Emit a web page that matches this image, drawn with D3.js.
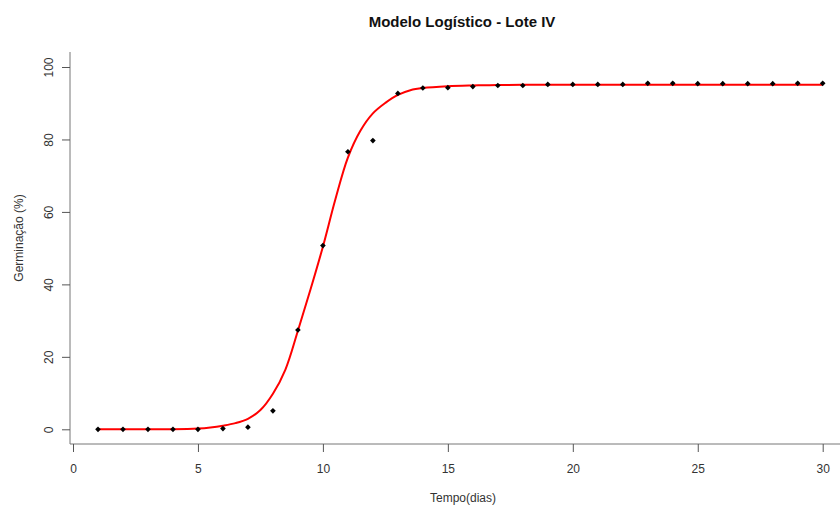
<!DOCTYPE html>
<html>
<head>
<meta charset="utf-8">
<script src="https://cdn.jsdelivr.net/npm/d3@7"></script>
<style>
  body { margin: 0; background: #fff; }
  svg text { font-family: "Liberation Sans", Arial, sans-serif; }
</style>
</head>
<body>
<div id="chart"></div>
<script>
// observed germination (%) per day
const days = d3.range(1, 31);
const germination = [
  0, 0, 0, 0, 0, 0.2, 0.6, 5.1, 27.4, 50.7,
  76.6, 79.7, 92.7, 94.2, 94.3, 94.6, 94.9, 94.9, 95.2, 95.2,
  95.2, 95.2, 95.5, 95.5, 95.4, 95.4, 95.4, 95.4, 95.5, 95.5
];

// fitted logistic curve
const fitDays = [1, 2, 3, 4, 5, 5.5, 6, 6.5, 7, 7.5, 8, 8.5, 9, 9.5, 10, 10.5, 11, 11.5, 12, 12.5, 13, 13.5, 14, 15, 16, 17, 18, 20, 25, 30];
const fitValues = [0, 0, 0, 0, 0.2, 0.5, 1.0, 1.7, 2.9, 5.3, 9.8, 16.5, 27.2, 38.5, 50.4, 63.5, 75.0, 82.4, 87.2, 90.1, 92.3, 93.6, 94.2, 94.7, 94.9, 95.0, 95.1, 95.1, 95.1, 95.1];

const xTicks = [0, 5, 10, 15, 20, 25, 30];
const yTicks = [0, 20, 40, 60, 80, 100];

const width = 840, height = 508;
const svg = d3.select('#chart').append('svg')
    .attr('width', width)
    .attr('height', height);

const x = d3.scaleLinear().domain([0, 30]).range([73, 822.7]);
const y = d3.scaleLinear().domain([0, 100]).range([429.3, 67]);

const axisColor = '#555';
const textColor = '#333';

// L-shaped frame
svg.append('path')
    .attr('d', `M70,52V444H${width}`)
    .attr('fill', 'none')
    .attr('stroke', '#777')
    .attr('stroke-width', 1);

// x axis ticks hang from the bottom line
const gx = svg.append('g')
    .attr('transform', 'translate(0,444)')
    .call(d3.axisBottom(x).tickValues(xTicks).tickSize(8).tickPadding(12).tickFormat(d3.format('d')));
gx.select('.domain').remove();
gx.selectAll('line').attr('stroke', axisColor);
gx.selectAll('text')
    .attr('fill', textColor)
    .style('font-size', '12px');

// y axis, labels rotated like base R
const gy = svg.append('g')
    .attr('transform', 'translate(70,0)');
gy.call(d3.axisLeft(y).tickValues(yTicks).tickSize(8).tickFormat(d3.format('d')));
gy.select('.domain').remove();
gy.selectAll('line').attr('stroke', axisColor);
gy.selectAll('text').remove();
gy.selectAll('.tick').append('text')
    .attr('transform', 'translate(-17,0) rotate(-90)')
    .attr('text-anchor', 'middle')
    .attr('fill', textColor)
    .style('font-size', '12px')
    .text(d => d);

// fitted curve
const line = d3.line()
    .x((d, i) => x(fitDays[i]))
    .y(d => y(d))
    .curve(d3.curveCatmullRom.alpha(0.5));

svg.append('path')
    .datum(fitValues)
    .attr('d', line)
    .attr('fill', 'none')
    .attr('stroke', '#ff0000')
    .attr('stroke-width', 2);

// observed points as filled diamonds
const diamond = d3.symbol().type(d3.symbolSquare).size(16);
svg.append('g')
    .selectAll('path')
    .data(germination)
    .enter()
    .append('path')
    .attr('d', diamond)
    .attr('transform', (d, i) => `translate(${x(days[i])},${y(d)}) rotate(45)`)
    .attr('fill', '#000');

// titles
svg.append('text')
    .attr('x', 462)
    .attr('y', 27)
    .attr('text-anchor', 'middle')
    .attr('fill', '#111')
    .style('font-size', '15px')
    .style('font-weight', 'bold')
    .text('Modelo Logístico - Lote IV');

svg.append('text')
    .attr('x', 463)
    .attr('y', 502)
    .attr('text-anchor', 'middle')
    .attr('fill', textColor)
    .style('font-size', '12px')
    .text('Tempo(dias)');

svg.append('text')
    .attr('transform', 'translate(23,238) rotate(-90)')
    .attr('text-anchor', 'middle')
    .attr('fill', textColor)
    .style('font-size', '12px')
    .text('Germinação (%)');
</script>
</body>
</html>
